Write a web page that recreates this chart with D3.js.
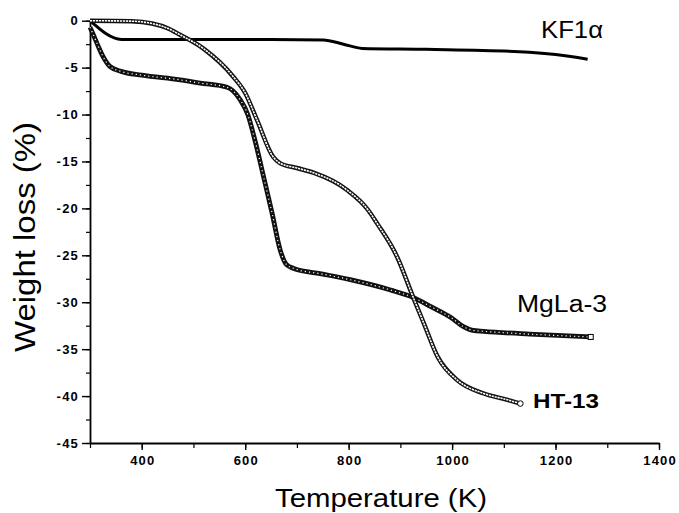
<!DOCTYPE html>
<html>
<head>
<meta charset="utf-8">
<script src="https://cdn.jsdelivr.net/npm/d3@7"></script>
<style>
  body { margin: 0; background: #fff; }
  svg { display: block; font-family: Arial, "Liberation Sans", sans-serif; }
  .tick text { font-weight: bold; font-size: 13px; letter-spacing: 1.2px; }
</style>
</head>
<body>
<svg id="chart" width="679" height="513"></svg>
<script>
// KF1alpha
const kfTemp = [300, 361, 500, 650, 751, 790, 826, 950, 1130, 1200, 1262];
const kfLoss = [0, -2.0, -2.0, -2.0, -2.05, -2.5, -2.95, -3.05, -3.3, -3.6, -4.1];

// MgLa-3
const mgTemp = [300, 305, 315, 325, 339, 360, 400, 474, 513, 565, 590, 605, 620, 635, 652, 668, 680, 694, 750, 803, 881, 925, 960, 997, 1022, 1040, 1061, 1150, 1268];
const mgLoss = [-0.7, -1.3, -2.6, -3.8, -4.9, -5.4, -5.8, -6.3, -6.65, -7.1, -8.4, -10, -13, -16.5, -20.5, -24.5, -26, -26.4, -27, -27.6, -28.7, -29.5, -30.5, -31.6, -32.6, -33.0, -33.1, -33.4, -33.7];

// HT-13
const htTemp = [300, 380, 420, 450, 474, 520, 577, 600, 623, 654, 668, 700, 732, 797, 838, 855, 894, 925, 945, 972, 1010, 1060, 1107, 1132];
const htLoss = [0, -0.05, -0.3, -0.8, -1.5, -3.0, -5.97, -7.7, -10.6, -14.5, -15.2, -15.7, -16.2, -18.05, -20.2, -21.6, -25.2, -29.5, -32.2, -35.8, -38.3, -39.7, -40.4, -40.8];

const xTicks = [400, 600, 800, 1000, 1200, 1400];
const yTicks = [0, -5, -10, -15, -20, -25, -30, -35, -40, -45];

const svg = d3.select("#chart");
const x = d3.scaleLinear().domain([300, 1400]).range([90, 659]);
const y = d3.scaleLinear().domain([-45, 0]).range([443, 20.7]);

// minor ticks
svg.append("g")
    .attr("transform", "translate(0,443)")
    .call(d3.axisBottom(x).tickValues(d3.range(300, 1401, 100)).tickSize(5).tickFormat(""))
    .call(g => g.select(".domain").remove())
    .selectAll("line").attr("stroke-width", 1.2);
svg.append("g")
    .attr("transform", "translate(90,0)")
    .call(d3.axisLeft(y).tickValues(d3.range(-45, 0.1, 2.5)).tickSize(4).tickFormat(""))
    .call(g => g.select(".domain").remove())
    .selectAll("line").attr("stroke-width", 1.2);

// major axes
const xAxis = svg.append("g")
    .attr("transform", "translate(0,443)")
    .call(d3.axisBottom(x).tickValues(xTicks).tickSize(7).tickSizeOuter(0).tickPadding(6).tickFormat(d3.format("d")));
xAxis.selectAll(".tick text").attr("dx", "0.6px");
const yAxis = svg.append("g")
    .attr("transform", "translate(90,0)")
    .call(d3.axisLeft(y).tickValues(yTicks).tickSize(8).tickSizeOuter(0).tickPadding(3).tickFormat(d => d));
[xAxis, yAxis].forEach(a => {
    a.select(".domain").attr("stroke-width", 1.8);
    a.selectAll(".tick line").attr("stroke-width", 1.4);
    a.selectAll(".tick text").attr("fill", "#000");
});

const curve = d3.curveMonotoneX;
function lineOf(xs, ys) {
    return d3.line().curve(curve).x((d, i) => x(xs[i])).y(d => y(d))(ys);
}

// KF1alpha: plain solid line
svg.append("path")
    .attr("d", lineOf(kfTemp, kfLoss))
    .attr("fill", "none").attr("stroke", "#000").attr("stroke-width", 3);

// MgLa-3: dense open squares -> dark band with specks
const mgPath = lineOf(mgTemp, mgLoss);
svg.append("path").attr("d", mgPath)
    .attr("fill", "none").attr("stroke", "#111").attr("stroke-width", 4.8);
svg.append("path").attr("d", mgPath)
    .attr("fill", "none").attr("stroke", "#fff").attr("stroke-width", 1.2)
    .attr("stroke-dasharray", "1.2,3");

// HT-13: open circles -> hollow double line
const htPath = lineOf(htTemp, htLoss);
svg.append("path").attr("d", htPath)
    .attr("fill", "none").attr("stroke", "#111").attr("stroke-width", 4.5);
svg.append("path").attr("d", htPath)
    .attr("fill", "none").attr("stroke", "#fff").attr("stroke-width", 1.6)
    .attr("stroke-dasharray", "2.2,0.8");

// end markers
svg.append("rect")
    .attr("x", x(mgTemp[mgTemp.length - 1]) - 2.5).attr("y", y(mgLoss[mgLoss.length - 1]) - 2.5)
    .attr("width", 5).attr("height", 5)
    .attr("fill", "#fff").attr("stroke", "#000").attr("stroke-width", 1);
svg.append("circle")
    .attr("cx", x(htTemp[htTemp.length - 1])).attr("cy", y(htLoss[htLoss.length - 1]))
    .attr("r", 2.8)
    .attr("fill", "#fff").attr("stroke", "#000").attr("stroke-width", 1);

// series labels
svg.append("text").attr("x", 541).attr("y", 38)
    .attr("font-size", 23).attr("textLength", 62).attr("lengthAdjust", "spacingAndGlyphs").text("KF1α");
svg.append("text").attr("x", 517).attr("y", 312)
    .attr("font-size", 23).attr("textLength", 90).attr("lengthAdjust", "spacingAndGlyphs").text("MgLa-3");
svg.append("text").attr("x", 533).attr("y", 408)
    .attr("font-size", 20).attr("font-weight", "bold")
    .attr("textLength", 66).attr("lengthAdjust", "spacingAndGlyphs").text("HT-13");

// axis titles
svg.append("text").attr("x", 381).attr("y", 507)
    .attr("text-anchor", "middle").attr("font-size", 25)
    .attr("textLength", 212).attr("lengthAdjust", "spacingAndGlyphs").text("Temperature (K)");
svg.append("text")
    .attr("transform", "translate(35,237) rotate(-90)")
    .attr("text-anchor", "middle").attr("font-size", 29)
    .attr("textLength", 230).attr("lengthAdjust", "spacingAndGlyphs").text("Weight loss (%)");
</script>
</body>
</html>
